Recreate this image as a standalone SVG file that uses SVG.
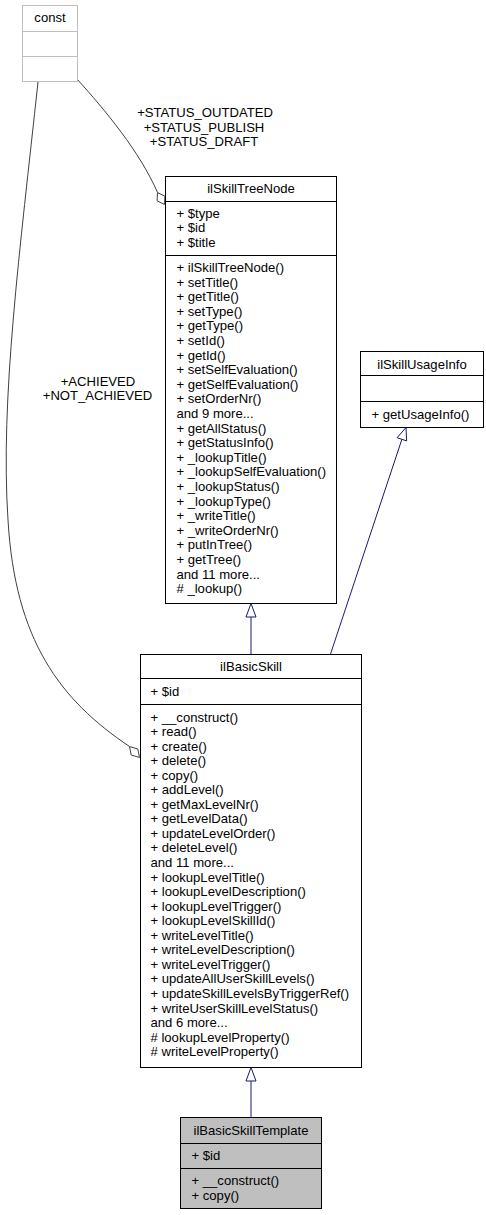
<svg xmlns="http://www.w3.org/2000/svg" width="486" height="1215" viewBox="0 0 486 1215">
<style>
text{font-family:"Liberation Sans",Arial,Helvetica,sans-serif;font-size:13.1px;fill:#000}
.c{text-anchor:middle}
.box{fill:#fff;stroke:#000;stroke-width:1}
.sep{stroke:#000;stroke-width:1}
.gbox{fill:#fff;stroke:#bfbfbf;stroke-width:1}
.gsep{stroke:#bfbfbf;stroke-width:1}
.inh{fill:none;stroke:#191970;stroke-width:1}
.tri{fill:#fff;stroke:#191970;stroke-width:1}
.use{fill:none;stroke:#404040;stroke-width:1}
.dia{fill:#fff;stroke:#404040;stroke-width:1}
</style>
<rect width="486" height="1215" fill="#fff"/>
<g id="connectors">
  <path class="use" d="M77,79 C105,110 140,152 157.5,192.5"/>
  <polygon class="dia" points="157.5,192.5 164.9,196.2 164.5,204.5 157.1,200.8"/>
  <path class="use" d="M38,82 C20,250 0,400 8,520 C15,640 60,700 129.5,746.5"/>
  <polygon class="dia" points="129.5,746.5 137.8,749 139.5,757.5 131.2,755"/>
  <line class="inh" x1="251" y1="654" x2="251" y2="617"/>
  <polygon class="tri" points="251,603.5 246,617 256,617"/>
  <line class="inh" x1="330.5" y1="654" x2="401.9" y2="439.3"/>
  <polygon class="tri" points="406,427.5 406.6,440.9 397.1,437.7"/>
  <line class="inh" x1="251" y1="1117" x2="251" y2="1081"/>
  <polygon class="tri" points="251,1067.5 246,1081 256,1081"/>
  <g id="edge-labels">
    <text class="c" x="205" y="117">+STATUS_OUTDATED</text>
    <text class="c" x="204" y="131.5">+STATUS_PUBLISH</text>
    <text class="c" x="204" y="146">+STATUS_DRAFT</text>
    <text class="c" x="98" y="385.5">+ACHIEVED</text>
    <text class="c" x="97.5" y="399.5">+NOT_ACHIEVED</text>
  </g>
</g>
<g id="const">
  <rect class="gbox" x="22.5" y="5.5" width="55" height="76"/>
  <line class="gsep" x1="22.5" y1="31.5" x2="77.5" y2="31.5"/>
  <line class="gsep" x1="22.5" y1="56.5" x2="77.5" y2="56.5"/>
  <text class="c" x="50" y="22">const</text>
</g>
<g id="ilSkillTreeNode">
  <rect class="box" x="165.5" y="176.5" width="171" height="427"/>
  <line class="sep" x1="165.5" y1="201.5" x2="336.5" y2="201.5"/>
  <line class="sep" x1="165.5" y1="255.5" x2="336.5" y2="255.5"/>
  <text class="c" x="251" y="193">ilSkillTreeNode</text>
  <text x="176.5" y="217.5">+ $type</text>
  <text x="176.5" y="232">+ $id</text>
  <text x="176.5" y="246.5">+ $title</text>
  <text x="176.5" y="272">+ ilSkillTreeNode()</text>
  <text x="176.5" y="286.6">+ setTitle()</text>
  <text x="176.5" y="301.2">+ getTitle()</text>
  <text x="176.5" y="315.8">+ setType()</text>
  <text x="176.5" y="330.4">+ getType()</text>
  <text x="176.5" y="345">+ setId()</text>
  <text x="176.5" y="359.6">+ getId()</text>
  <text x="176.5" y="374.2">+ setSelfEvaluation()</text>
  <text x="176.5" y="388.8">+ getSelfEvaluation()</text>
  <text x="176.5" y="403.4">+ setOrderNr()</text>
  <text x="176.5" y="418">and 9 more...</text>
  <text x="176.5" y="432.6">+ getAllStatus()</text>
  <text x="176.5" y="447.2">+ getStatusInfo()</text>
  <text x="176.5" y="461.8">+ _lookupTitle()</text>
  <text x="176.5" y="476.4">+ _lookupSelfEvaluation()</text>
  <text x="176.5" y="491">+ _lookupStatus()</text>
  <text x="176.5" y="505.6">+ _lookupType()</text>
  <text x="176.5" y="520.2">+ _writeTitle()</text>
  <text x="176.5" y="534.8">+ _writeOrderNr()</text>
  <text x="176.5" y="549.4">+ putInTree()</text>
  <text x="176.5" y="564">+ getTree()</text>
  <text x="176.5" y="578.6">and 11 more...</text>
  <text x="176.5" y="593.2"># _lookup()</text>
</g>
<g id="ilSkillUsageInfo">
  <rect class="box" x="360.5" y="351.5" width="123" height="76"/>
  <line class="sep" x1="360.5" y1="375.5" x2="483.5" y2="375.5"/>
  <line class="sep" x1="360.5" y1="401.5" x2="483.5" y2="401.5"/>
  <text class="c" x="422" y="368.5">ilSkillUsageInfo</text>
  <text x="371.5" y="418.5">+ getUsageInfo()</text>
</g>
<g id="ilBasicSkill">
  <rect class="box" x="140.5" y="654.5" width="221" height="413"/>
  <line class="sep" x1="140.5" y1="678.5" x2="361.5" y2="678.5"/>
  <line class="sep" x1="140.5" y1="704.5" x2="361.5" y2="704.5"/>
  <text class="c" x="251" y="670.5">ilBasicSkill</text>
  <text x="150.5" y="696">+ $id</text>
  <text x="150.5" y="721.5">+ __construct()</text>
  <text x="150.5" y="736.05">+ read()</text>
  <text x="150.5" y="750.6">+ create()</text>
  <text x="150.5" y="765.15">+ delete()</text>
  <text x="150.5" y="779.7">+ copy()</text>
  <text x="150.5" y="794.25">+ addLevel()</text>
  <text x="150.5" y="808.8">+ getMaxLevelNr()</text>
  <text x="150.5" y="823.35">+ getLevelData()</text>
  <text x="150.5" y="837.9">+ updateLevelOrder()</text>
  <text x="150.5" y="852.45">+ deleteLevel()</text>
  <text x="150.5" y="867">and 11 more...</text>
  <text x="150.5" y="881.55">+ lookupLevelTitle()</text>
  <text x="150.5" y="896.1">+ lookupLevelDescription()</text>
  <text x="150.5" y="910.65">+ lookupLevelTrigger()</text>
  <text x="150.5" y="925.2">+ lookupLevelSkillId()</text>
  <text x="150.5" y="939.75">+ writeLevelTitle()</text>
  <text x="150.5" y="954.3">+ writeLevelDescription()</text>
  <text x="150.5" y="968.85">+ writeLevelTrigger()</text>
  <text x="150.5" y="983.4">+ updateAllUserSkillLevels()</text>
  <text x="150.5" y="997.95">+ updateSkillLevelsByTriggerRef()</text>
  <text x="150.5" y="1012.5">+ writeUserSkillLevelStatus()</text>
  <text x="150.5" y="1027.05">and 6 more...</text>
  <text x="150.5" y="1041.6"># lookupLevelProperty()</text>
  <text x="150.5" y="1056.15"># writeLevelProperty()</text>
</g>
<g id="ilBasicSkillTemplate">
  <rect class="box" x="180.5" y="1117.5" width="141" height="91" style="fill:#bfbfbf"/>
  <line class="sep" x1="180.5" y1="1143.5" x2="321.5" y2="1143.5"/>
  <line class="sep" x1="180.5" y1="1168.5" x2="321.5" y2="1168.5"/>
  <text class="c" x="251" y="1135">ilBasicSkillTemplate</text>
  <text x="191.5" y="1160">+ $id</text>
  <text x="191.5" y="1185">+ __construct()</text>
  <text x="191.5" y="1199.5">+ copy()</text>
</g>
</svg>
